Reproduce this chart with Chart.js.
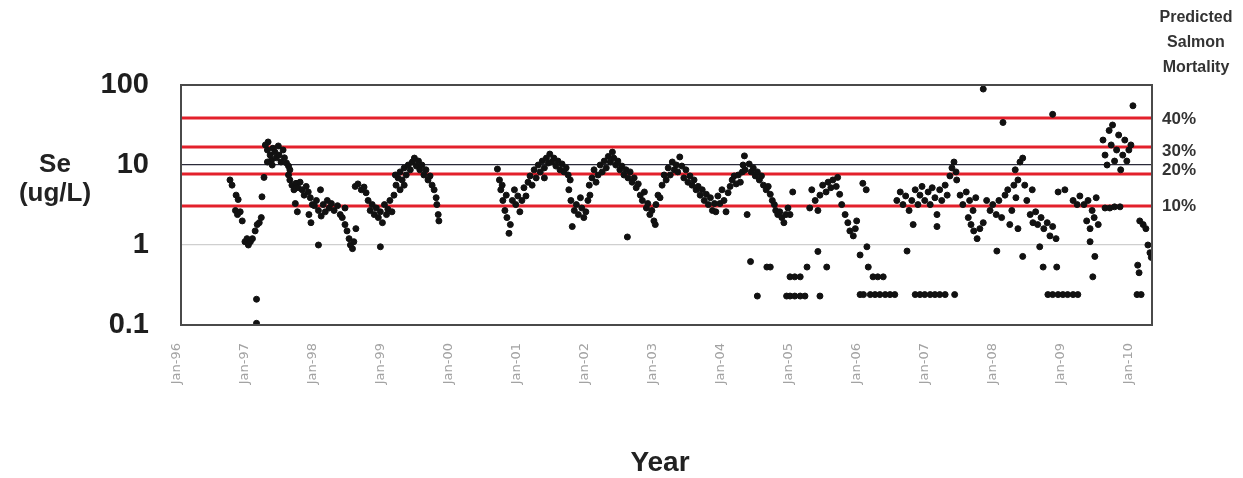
<!DOCTYPE html>
<html lang="en">
<head>
    <meta charset="UTF-8">
    <title>Se concentration and predicted salmon mortality</title>
    <style>
        body {
            margin: 0;
            background: #ffffff;
        }
        .chart-box {
            width: 1243px;
            height: 478px;
            position: relative;
        }
    </style>
</head>
<body>
    <div class="chart-box">
        <canvas id="seChart"></canvas>
    </div>

    <script src="https://cdn.jsdelivr.net/npm/chart.js"></script>
    <script>
        // sample dates (decimal years) and selenium values (ug/L)
        const sampleDates = [
            1996.79, 1996.82, 1996.88, 1996.91, 1996.87, 1996.90, 1996.94, 1996.97, 1997.01, 1997.04, 1997.06, 1997.09, 1997.12, 1997.16, 1997.19, 1997.22, 1997.25, 1997.26, 1997.18, 1997.18, 1997.29,
            1997.31, 1997.34, 1997.35, 1997.38, 1997.40, 1997.42, 1997.45, 1997.47, 1997.50, 1997.51, 1997.54, 1997.57, 1997.59, 1997.62, 1997.65, 1997.67, 1997.34, 1997.41,
            1997.65, 1997.67, 1997.70, 1997.73, 1997.76, 1997.79, 1997.82, 1997.85, 1997.75, 1997.78, 1997.88, 1997.91, 1997.94, 1997.97, 1998.00, 1997.95, 1997.98, 1998.03, 1998.06, 1998.09, 1998.09, 1998.12, 1998.13, 1998.16, 1998.19, 1998.22, 1998.25,
            1998.28, 1998.32, 1998.37, 1998.41, 1998.44, 1998.48, 1998.48, 1998.51, 1998.54, 1998.56, 1998.59, 1998.61, 1998.64, 1998.63, 1998.67, 1998.72, 1998.76, 1998.79, 1998.82, 1998.85, 1998.88, 1998.91, 1998.94, 1998.97, 1999.00, 1999.03, 1999.00, 1999.06, 1999.09, 1999.11, 1999.14, 1999.17,
            1999.20, 1999.23, 1999.26, 1999.29, 1999.32, 1999.35, 1999.38, 1999.41, 1999.44, 1999.47, 1999.50, 1999.53, 1999.56, 1999.58, 1999.61, 1999.64, 1999.67, 1999.70, 1999.73, 1999.76, 1999.79, 1999.82, 1999.83, 1999.85, 1999.86, 1999.29, 1999.35, 1999.22,
            2000.72, 2000.75, 2000.77, 2000.80, 2000.83, 2000.86, 2000.89, 2000.91, 2000.79, 2000.85, 2000.94, 2000.97, 2000.99, 2001.02, 2001.05, 2001.08, 2001.11, 2001.14, 2001.17, 2001.20, 2001.23, 2001.26, 2001.29,
            2001.32, 2001.35, 2001.38, 2001.41, 2001.44, 2001.47, 2001.49, 2001.52, 2001.55, 2001.58, 2001.61, 2001.64, 2001.67, 2001.70, 2001.73, 2001.76, 2001.79, 2001.41, 2001.77, 2001.80, 2001.82, 2001.85, 2001.88, 2001.91, 2001.94, 2001.96, 2001.99, 2002.02, 2002.05, 2002.08, 2002.07, 2002.11, 2002.14, 2002.17, 2002.20,
            2002.23, 2002.26, 2002.29, 2002.32, 2002.35, 2002.38, 2002.41, 2002.43, 2002.46, 2002.49, 2002.52, 2002.55, 2002.58, 2002.61, 2002.63, 2002.64, 2002.67, 2002.70, 2002.73, 2002.76, 2002.79, 2002.82, 2002.85, 2002.88, 2002.91, 2002.93, 2002.96, 2002.99, 2003.02, 2003.04, 2003.05, 2003.08, 2003.11,
            2003.14, 2003.17, 2003.20, 2003.23, 2003.26, 2003.29, 2003.32, 2003.35, 2003.37, 2003.40, 2003.43, 2003.46, 2003.49, 2003.52, 2003.55,
            2003.58, 2003.61, 2003.64, 2003.67, 2003.70, 2003.73, 2003.76, 2003.79, 2003.82, 2003.85, 2003.88, 2003.91, 2003.93, 2003.96, 2003.99, 2004.02, 2004.05, 2004.08, 2004.11, 2004.14, 2004.17, 2004.20, 2004.23, 2004.26, 2004.29, 2004.32,
            2004.33, 2004.35, 2004.36, 2004.39, 2004.42, 2004.45, 2004.48, 2004.51, 2004.54, 2004.57, 2004.60, 2004.63, 2004.67, 2004.70, 2004.73, 2004.76, 2004.79, 2004.81, 2004.84, 2004.87, 2004.90, 2004.93, 2004.96, 2004.99, 2005.02, 2005.06,
            2004.44, 2004.54, 2004.68, 2004.73, 2004.97, 2005.02, 2005.09, 2005.17, 2005.24, 2005.46, 2005.02, 2005.09, 2005.17, 2005.27, 2005.56, 2005.43,
            2005.31, 2005.34, 2005.39, 2005.43, 2005.46, 2005.50, 2005.55, 2005.58, 2005.65, 2005.70, 2005.75, 2005.78, 2005.83, 2005.87, 2005.90, 2005.95, 2005.98, 2006.00, 2006.09, 2006.14, 2005.62, 2005.72,
            2006.05, 2006.15, 2006.17, 2006.24, 2006.31, 2006.39, 2006.05, 2006.10, 2006.20, 2006.27, 2006.34, 2006.42, 2006.49, 2006.56,
            2006.59, 2006.64, 2006.68, 2006.72, 2006.74, 2006.77, 2006.81, 2006.83, 2006.86, 2006.90, 2006.93, 2006.96, 2007.00, 2007.05, 2007.08, 2007.11, 2007.15, 2007.18, 2007.18, 2007.22, 2007.25, 2007.30, 2007.33, 2007.37, 2007.40, 2007.43, 2007.46, 2007.47,
            2006.86, 2006.93, 2007.00, 2007.08, 2007.15, 2007.22, 2007.30, 2007.44,
            2007.52, 2007.56, 2007.61, 2007.66, 2007.71, 2007.75, 2007.64, 2007.68, 2007.72, 2007.77, 2007.81, 2007.86, 2007.86, 2007.91, 2007.96, 2008.00, 2008.05, 2008.06, 2008.09, 2008.13, 2008.15, 2008.18, 2008.22, 2008.25, 2008.28, 2008.31,
            2008.34, 2008.37, 2008.33, 2008.37, 2008.40, 2008.44, 2008.44, 2008.47, 2008.50, 2008.55, 2008.58, 2008.59, 2008.63, 2008.66, 2008.69, 2008.71, 2008.74, 2008.75, 2008.80, 2008.84, 2008.88, 2008.88, 2008.93, 2008.94, 2008.96, 2009.06,
            2008.81, 2008.88, 2008.96, 2009.03, 2009.10, 2009.18, 2009.25,
            2009.18, 2009.24, 2009.28, 2009.34, 2009.40, 2009.46, 2009.52, 2009.38, 2009.43, 2009.49, 2009.55, 2009.43, 2009.50, 2009.47, 2009.65, 2009.72, 2009.79, 2009.87,
            2009.62, 2009.65, 2009.68, 2009.71, 2009.74, 2009.76, 2009.79, 2009.82, 2009.85, 2009.88, 2009.91, 2009.94, 2009.97, 2010.00, 2010.03, 2010.06,
            2010.16, 2010.21, 2010.25, 2010.28, 2010.31, 2010.33, 2010.13, 2010.15, 2010.12, 2010.18
        ];

        const seValues = [
            6.5, 5.6, 4.2, 3.7, 2.7, 2.4, 2.6, 2.0, 1.1, 1.2, 1.0, 1.1, 1.2, 1.5, 1.8, 1.9, 2.2, 4.0, 0.21, 0.105, 7.0,
            17.8, 15.4, 19.4, 13.3, 11.5, 16.2, 14.5, 12.3, 17.3, 13.3, 10.9, 15.4, 12.3, 10.6, 9.7, 8.7, 10.9, 10,
            7.5, 6.5, 5.6, 4.9, 5.9, 5.2, 6.1, 4.9, 3.3, 2.6, 4.2, 5.4, 4.6, 3.9, 3.2, 2.4, 1.9, 3.1, 3.6, 1.0, 2.7, 4.9, 2.3, 3.2, 2.6, 3.6, 2.9,
            3.3, 2.7, 3.1, 2.4, 2.2, 2.9, 1.8, 1.5, 1.2, 1.0, 0.9, 1.1, 1.6, 5.4, 5.8, 4.9, 5.3, 4.5, 3.6, 2.7, 3.2, 2.4, 2.9, 2.2, 2.6, 1.9, 0.95, 3.2, 2.4, 2.8, 3.6, 2.6,
            4.2, 5.6, 6.9, 8.2, 6.5, 9.2, 7.5, 10, 8.7, 10.9, 12.2, 9.7, 11.2, 8.7, 10, 7.5, 8.7, 6.5, 7.3, 5.6, 4.9, 3.9, 3.2, 2.4, 2.0, 4.9, 5.6, 7.5,
            8.9, 6.5, 4.9, 3.6, 2.7, 2.2, 1.4, 1.8, 5.6, 4.2, 3.6, 4.9, 3.2, 4.1, 2.6, 3.6, 5.2, 4.1, 6.1, 7.3, 5.6, 8.7, 6.9,
            10, 8.2, 11.2, 9.2, 12.2, 10.6, 13.7, 10.9, 12.2, 9.7, 11.2, 8.7, 10.3, 8.2, 9.2, 7.5, 6.5, 6.9, 4.9, 3.6, 1.7, 2.7, 3.2, 2.4, 3.9, 2.9, 2.2, 2.6, 3.6, 4.2, 5.6, 6.9, 8.7, 6.1, 7.5,
            10, 8.2, 11.2, 9.2, 12.8, 10.9, 14.5, 12.2, 10, 11.2, 8.7, 9.7, 7.5, 8.7, 1.26, 6.9, 8.2, 6.1, 6.9, 5.2, 5.8, 4.2, 3.6, 4.6, 2.9, 3.3, 2.4, 2.7, 2.0, 1.8, 3.2, 4.2, 3.9,
            5.6, 7.5, 6.5, 9.2, 7.5, 10.9, 8.7, 10, 8.2, 12.6, 9.7, 6.9, 8.7, 6.1, 7.3,
            5.6, 6.5, 4.9, 5.4, 4.2, 4.9, 3.6, 4.3, 3.2, 3.9, 2.7, 3.3, 2.6, 4.1, 3.3, 4.9, 3.6, 2.6, 4.5, 5.4, 6.5, 7.3, 5.8, 7.5, 6.1, 8.2,
            10, 13, 8.7, 2.4, 10.3, 8.2, 9.2, 7.3, 8.2, 6.5, 7.3, 5.6, 4.9, 5.4, 4.3, 3.6, 3.2, 2.7, 2.4, 2.6, 2.2, 1.9, 2.4, 2.9, 2.4, 4.6,
            0.62, 0.23, 0.53, 0.53, 0.23, 0.23, 0.23, 0.23, 0.23, 0.23, 0.4, 0.4, 0.4, 0.53, 0.53, 0.83,
            2.9, 4.9, 3.6, 2.7, 4.2, 5.6, 4.6, 6.1, 6.5, 5.4, 4.3, 3.2, 2.4, 1.9, 1.5, 1.3, 1.6, 2.0, 5.9, 4.9, 5.2, 7.0,
            0.75, 0.95, 0.53, 0.4, 0.4, 0.4, 0.24, 0.24, 0.24, 0.24, 0.24, 0.24, 0.24, 0.24,
            3.6, 4.6, 3.2, 4.1, 0.84, 2.7, 3.6, 1.8, 4.9, 3.2, 4.2, 5.4, 3.6, 4.6, 3.2, 5.2, 3.9, 2.4, 1.7, 4.9, 3.6, 5.6, 4.2, 7.3, 9.2, 10.9, 8.2, 6.5,
            0.24, 0.24, 0.24, 0.24, 0.24, 0.24, 0.24, 0.24,
            4.2, 3.2, 4.6, 3.6, 2.7, 3.9, 2.2, 1.8, 1.5, 1.2, 1.6, 1.9, 89, 3.6, 2.7, 3.2, 2.4, 0.84, 3.6, 2.2, 34, 4.2, 4.9, 1.8, 2.7, 5.6,
            3.9, 1.6, 8.7, 6.5, 10.9, 12.2, 0.72, 5.6, 3.6, 2.4, 4.9, 1.9, 2.6, 1.8, 0.95, 2.2, 0.53, 1.6, 1.9, 1.3, 1.7, 43, 1.2, 0.53, 4.6, 4.9,
            0.24, 0.24, 0.24, 0.24, 0.24, 0.24, 0.24,
            3.6, 3.2, 4.1, 3.2, 3.6, 2.7, 3.9, 2.0, 1.6, 2.2, 1.8, 1.1, 0.72, 0.4, 2.9, 2.9, 3.0, 3.0,
            20.5, 13.3, 10, 27, 17.8, 31.6, 11.2, 15.4, 23.7, 8.7, 13.3, 20.5, 11.2, 15.4, 17.8, 55,
            2.0, 1.8, 1.6, 1.0, 0.8, 0.7, 0.56, 0.45, 0.24, 0.24
        ];

        // mortality thresholds
        const thresholdValues = [38.7, 16.8, 7.7, 3.07];
        const thresholdLabels = ['40%', '30%', '20%', '10%'];

        // axis ticks
        const yearTicks = [1996, 1997, 1998, 1999, 2000, 2001, 2002, 2003, 2004, 2005, 2006, 2007, 2008, 2009, 2010];
        const seTicks = [0.1, 1, 10, 100];

        const X_MIN = 1996.07;
        const X_MAX = 2010.34;

        const points = sampleDates.map((d, i) => ({ x: d, y: seValues[i] }));

        const thresholdSets = thresholdValues.map(v => ({
            data: [{ x: X_MIN, y: v }, { x: X_MAX, y: v }],
            showLine: true,
            borderColor: '#e3202b',
            borderWidth: 3,
            pointRadius: 0,
            order: 1
        }));

        // extra text: axis titles, right-hand labels, frame
        const labelsPlugin = {
            id: 'labels',
            afterDraw(chart) {
                const ctx = chart.ctx;
                const area = chart.chartArea;
                const yScale = chart.scales.y;
                ctx.save();

                ctx.strokeStyle = '#4a4a4a';
                ctx.lineWidth = 2;
                ctx.strokeRect(area.left, area.top, area.right - area.left, area.bottom - area.top);

                ctx.fillStyle = '#222';
                ctx.textAlign = 'center';
                ctx.textBaseline = 'middle';
                ctx.font = 'bold 26px "Liberation Sans", Arial, sans-serif';
                ctx.fillText('Se', 55, 165);
                ctx.fillText('(ug/L)', 55, 194);

                ctx.font = 'bold 28px "Liberation Sans", Arial, sans-serif';
                ctx.fillText('Year', 660, 463);

                ctx.fillStyle = '#333';
                ctx.font = 'bold 16px "Liberation Sans", Arial, sans-serif';
                ctx.fillText('Predicted', 1196, 18);
                ctx.fillText('Salmon', 1196, 43);
                ctx.fillText('Mortality', 1196, 68);

                const shifts = [1, 4, -4, 0];
                ctx.textAlign = 'left';
                ctx.font = 'bold 17px "Liberation Sans", Arial, sans-serif';
                thresholdValues.forEach((v, i) => {
                    ctx.fillText(thresholdLabels[i], 1162, yScale.getPixelForValue(v) + shifts[i]);
                });
                ctx.restore();
            }
        };

        new Chart(document.getElementById('seChart'), {
            type: 'scatter',
            data: {
                datasets: [{
                    data: points,
                    backgroundColor: '#111',
                    borderColor: '#111',
                    pointRadius: 3,
                    order: 0
                }].concat(thresholdSets)
            },
            options: {
                responsive: true,
                maintainAspectRatio: false,
                animation: false,
                layout: {
                    padding: { top: 85, right: 91, bottom: 0, left: 0 }
                },
                plugins: {
                    legend: { display: false },
                    tooltip: { enabled: false }
                },
                scales: {
                    x: {
                        type: 'linear',
                        bounds: 'data',
                        min: X_MIN,
                        max: X_MAX,
                        afterBuildTicks: scale => {
                            scale.ticks = yearTicks.map(v => ({ value: v }));
                        },
                        afterFit: scale => {
                            scale.height = 153;
                        },
                        grid: { display: false },
                        border: { display: false },
                        ticks: {
                            autoSkip: false,
                            minRotation: 90,
                            maxRotation: 90,
                            padding: 10,
                            color: '#a3a3a3',
                            font: { family: 'DejaVu Sans', size: 13 },
                            callback: v => 'Jan-' + String(v).slice(2)
                        }
                    },
                    y: {
                        type: 'logarithmic',
                        min: 0.1,
                        max: 100,
                        afterBuildTicks: scale => {
                            scale.ticks = seTicks.map(v => ({ value: v }));
                        },
                        afterFit: scale => {
                            scale.width = 181;
                        },
                        border: { display: false },
                        grid: {
                            drawTicks: false,
                            lineWidth: 1.3,
                            color: c => {
                                if (c.tick.value === 10) return '#2b2b3a';
                                if (c.tick.value === 1) return '#cfcfcf';
                                return 'rgba(0,0,0,0)';
                            }
                        },
                        ticks: {
                            padding: 32,
                            color: '#1e1e1e',
                            font: { family: '"Liberation Sans", Arial, sans-serif', size: 29, weight: 'bold' },
                            callback: v => String(v)
                        }
                    }
                }
            },
            plugins: [labelsPlugin]
        });
    </script>
</body>
</html>
